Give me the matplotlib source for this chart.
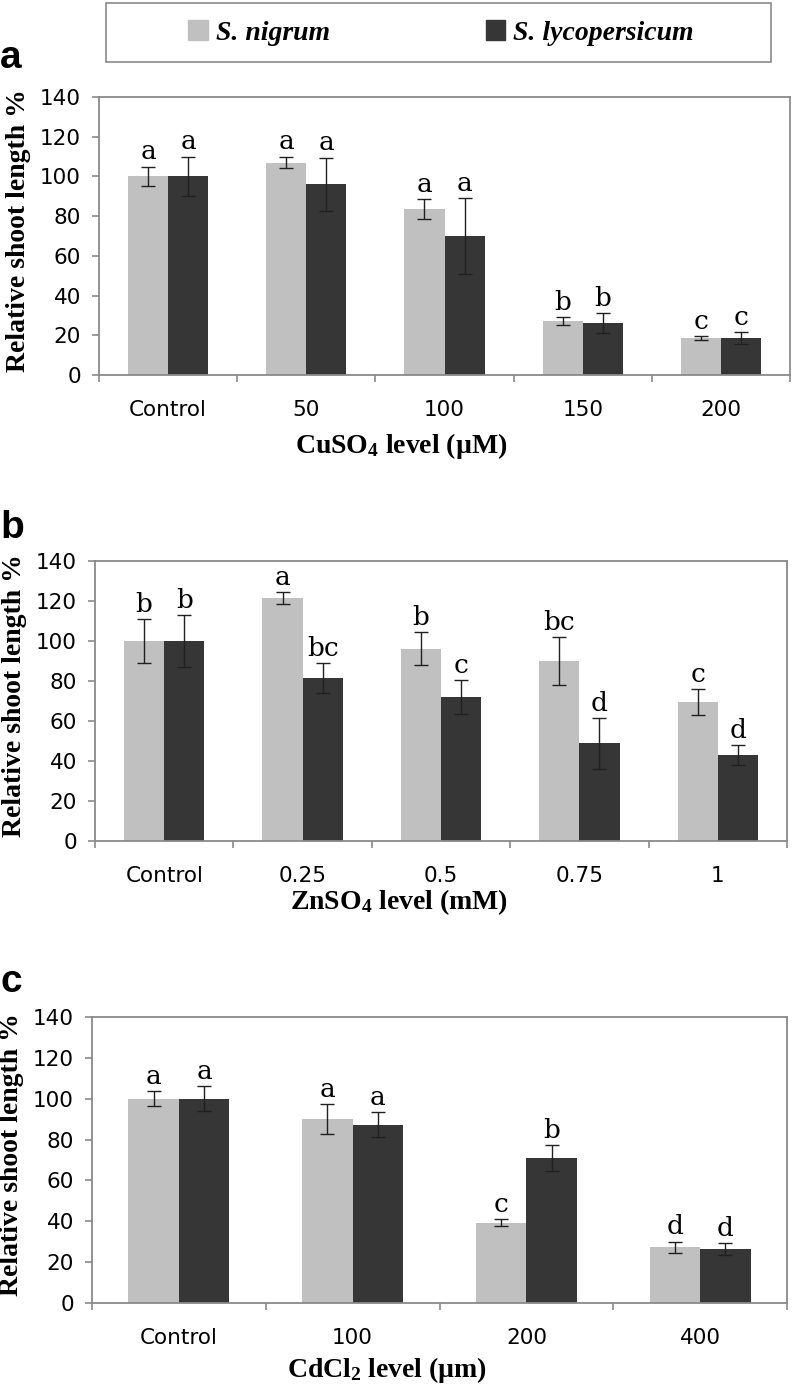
"""
    Relative shoot length under heavy metal stress (three panels)
"""
import numpy as np
import matplotlib
matplotlib.use("Agg")
import matplotlib.pyplot as plt
from matplotlib.patches import Rectangle, Patch

plt.rcParams['mathtext.fontset'] = 'custom'
plt.rcParams['mathtext.rm'] = 'Liberation Serif:bold'
plt.rcParams['mathtext.bf'] = 'Liberation Serif:bold'
plt.rcParams['mathtext.it'] = 'Liberation Serif:bold'

LIGHT = "#c0c0c0"
DARK = "#363636"
FRAME = "#8a8a8a"

SPECIES = ["S. nigrum", "S. lycopersicum"]

### Data

# panel a - CuSO4
cu_levels = ["Control", "50", "100", "150", "200"]
cu_nigrum = [100, 107, 83.5, 27.3, 18.5]
cu_nigrum_err = [5, 3, 5, 2, 1]
cu_lyco = [100, 96, 70, 26.3, 18.5]
cu_lyco_err = [10, 13.5, 19, 5, 3]
cu_nigrum_sig = ["a", "a", "a", "b", "c"]
cu_lyco_sig = ["a", "a", "a", "b", "c"]

# panel b - ZnSO4
zn_levels = ["Control", "0.25", "0.5", "0.75", "1"]
zn_nigrum = [100, 121.5, 96.2, 89.8, 69.3]
zn_nigrum_err = [11, 3, 8.3, 12, 6.5]
zn_lyco = [100, 81.4, 72.2, 48.8, 43.2]
zn_lyco_err = [13, 7.4, 8.5, 12.8, 5]
zn_nigrum_sig = ["b", "a", "b", "bc", "c"]
zn_lyco_sig = ["b", "bc", "c", "d", "d"]

# panel c - CdCl2
cd_levels = ["Control", "100", "200", "400"]
cd_nigrum = [100, 90, 39.4, 27.4]
cd_nigrum_err = [3.7, 7.5, 1.8, 2.7]
cd_lyco = [100, 87.3, 70.8, 26.4]
cd_lyco_err = [6, 6, 6.4, 3]
cd_nigrum_sig = ["a", "a", "c", "d"]
cd_lyco_sig = ["a", "a", "b", "d"]

### Drawing

W, H = 792, 1387


def rect(left, top, right, bottom):
    return [left / W, 1 - bottom / H, (right - left) / W, (bottom - top) / H]


def draw_panel(ax, levels, nig, nig_err, lyc, lyc_err, nig_sig, lyc_sig,
               xlabel, xlabel_x, xlabel_y):
    n = len(levels)
    x = np.arange(n)
    w = 0.29
    ekw = dict(ecolor="#202020", elinewidth=1.0, capsize=5, capthick=1.0)
    ax.bar(x - w / 2, nig, w, yerr=nig_err, color=LIGHT, error_kw=ekw, zorder=2)
    ax.bar(x + w / 2, lyc, w, yerr=lyc_err, color=DARK, error_kw=ekw, zorder=2)

    for xi, v, e, s in zip(x - w / 2, nig, nig_err, nig_sig):
        ax.annotate(s, (xi, v + e), xytext=(0, 1.5), textcoords="offset points",
                    ha="center", va="bottom", fontsize=19, family="DejaVu Serif")
    for xi, v, e, s in zip(x + w / 2, lyc, lyc_err, lyc_sig):
        ax.annotate(s, (xi, v + e), xytext=(0, 1.5), textcoords="offset points",
                    ha="center", va="bottom", fontsize=19, family="DejaVu Serif")

    ax.set_xlim(-0.5, n - 0.5)
    ax.set_ylim(0, 140)
    ax.set_yticks(np.arange(0, 141, 20))
    ax.set_xticks(np.arange(n + 1) - 0.5)
    ax.set_xticklabels([])
    ax.set_xticks(x, minor=True)
    ax.set_xticklabels(levels, minor=True)
    ax.tick_params(axis="x", which="major", direction="out", length=5,
                   color=FRAME, width=1.2)
    ax.tick_params(axis="x", which="minor", length=0, pad=18, labelsize=15.5)
    ax.tick_params(axis="y", direction="out", length=5, color=FRAME, width=1.2,
                   pad=8, labelsize=15.5)
    for lab in ax.get_xticklabels(minor=True) + ax.get_yticklabels():
        lab.set_family("DejaVu Sans")
    for sp in ax.spines.values():
        sp.set_color(FRAME)
        sp.set_linewidth(1.3)

    ax.set_ylabel("Relative shoot length %", fontsize=20, fontweight="bold",
                  family="Liberation Serif")
    ax.yaxis.set_label_coords(-0.098, 0.52)
    ax.set_xlabel(xlabel, fontsize=20, fontweight="bold", family="Liberation Serif")
    ax.xaxis.set_label_coords(xlabel_x, xlabel_y)


def main() -> None:
    fig = plt.figure(figsize=(W / 100, H / 100), dpi=100)

    ax_a = fig.add_axes(rect(99, 97, 790, 375))
    ax_b = fig.add_axes(rect(95, 561, 787, 841))
    ax_c = fig.add_axes(rect(92, 1017, 787, 1303))

    draw_panel(ax_a, cu_levels, cu_nigrum, cu_nigrum_err, cu_lyco, cu_lyco_err,
               cu_nigrum_sig, cu_lyco_sig, r"CuSO$_4$ level (µM)", 0.437, -0.2)
    draw_panel(ax_b, zn_levels, zn_nigrum, zn_nigrum_err, zn_lyco, zn_lyco_err,
               zn_nigrum_sig, zn_lyco_sig, r"ZnSO$_4$ level (mM)", 0.44, -0.165)
    draw_panel(ax_c, cd_levels, cd_nigrum, cd_nigrum_err, cd_lyco, cd_lyco_err,
               cd_nigrum_sig, cd_lyco_sig, r"CdCl$_2$ level (µm)", 0.425, -0.182)

    # panel letters
    for lab, y in [("a", 68), ("b", 538), ("c", 992)]:
        fig.text(0 / W, 1 - y / H, lab, fontsize=28, fontweight="bold",
                 family="Liberation Sans", ha="left", va="baseline")

    # legend box + entries
    fig.patches.append(Rectangle((106 / W, 1 - 62 / H), 665 / W, 59 / H,
                                 transform=fig.transFigure, fill=False,
                                 edgecolor=FRAME, linewidth=1.2))
    handles = [Patch(color=LIGHT), Patch(color=DARK)]
    fig.legend(handles, SPECIES, loc="center", ncol=2,
               bbox_to_anchor=(441 / W, 1 - 33 / H), frameon=False,
               prop=dict(family="Liberation Serif", weight="bold",
                         style="italic", size=20),
               handlelength=0.7, handleheight=0.7, handletextpad=0.3,
               columnspacing=5.6)

    fig.savefig("out.png", dpi=100)


if __name__ == "__main__":
    main()
